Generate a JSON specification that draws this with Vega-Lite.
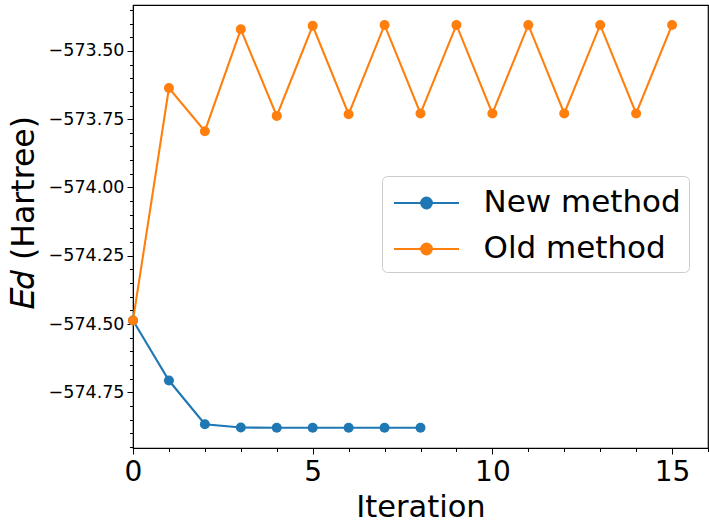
{
  "$schema": "https://vega.github.io/schema/vega-lite/v6.json",
  "width": 575,
  "height": 443,
  "autosize": {"type": "none"},
  "padding": {"left": 133, "top": 5, "right": 1, "bottom": 77},
  "config": {
    "font": "DejaVu Sans",
    "view": {"stroke": "#000000", "strokeWidth": 1.2}
  },
  "data": {
    "values": [
      {"iter": 0, "energy": -574.487, "method": "New method"},
      {"iter": 1, "energy": -574.707, "method": "New method"},
      {"iter": 2, "energy": -574.867, "method": "New method"},
      {"iter": 3, "energy": -574.879, "method": "New method"},
      {"iter": 4, "energy": -574.880, "method": "New method"},
      {"iter": 5, "energy": -574.880, "method": "New method"},
      {"iter": 6, "energy": -574.880, "method": "New method"},
      {"iter": 7, "energy": -574.880, "method": "New method"},
      {"iter": 8, "energy": -574.880, "method": "New method"},
      {"iter": 0, "energy": -574.487, "method": "Old method"},
      {"iter": 1, "energy": -573.636, "method": "Old method"},
      {"iter": 2, "energy": -573.794, "method": "Old method"},
      {"iter": 3, "energy": -573.421, "method": "Old method"},
      {"iter": 4, "energy": -573.738, "method": "Old method"},
      {"iter": 5, "energy": -573.408, "method": "Old method"},
      {"iter": 6, "energy": -573.732, "method": "Old method"},
      {"iter": 7, "energy": -573.405, "method": "Old method"},
      {"iter": 8, "energy": -573.729, "method": "Old method"},
      {"iter": 9, "energy": -573.405, "method": "Old method"},
      {"iter": 10, "energy": -573.729, "method": "Old method"},
      {"iter": 11, "energy": -573.405, "method": "Old method"},
      {"iter": 12, "energy": -573.729, "method": "Old method"},
      {"iter": 13, "energy": -573.405, "method": "Old method"},
      {"iter": 14, "energy": -573.729, "method": "Old method"},
      {"iter": 15, "energy": -573.405, "method": "Old method"}
    ]
  },
  "encoding": {
    "x": {
      "field": "iter",
      "type": "quantitative",
      "scale": {"domain": [0, 16], "nice": false, "zero": false},
      "axis": {
        "title": "Iteration",
        "values": [0, 1, 2, 3, 4, 5, 6, 7, 8, 9, 10, 11, 12, 13, 14, 15, 16],
        "labelExpr": "datum.value % 5 == 0 && datum.value < 16 ? format(datum.value, 'd') : ''",
        "tickSize": {"condition": {"test": "datum.value % 5 == 0 && datum.value < 16", "value": 6}, "value": 3.5},
        "labelFontSize": 28,
        "labelOverlap": false,
        "labelFlush": false,
        "labelPadding": 4,
        "titleFontSize": 30.5,
        "titleFontWeight": "normal",
        "titlePadding": 6,
        "grid": false,
        "domainColor": "#000000",
        "tickColor": "#000000",
        "labelColor": "#000000",
        "titleColor": "#000000"
      }
    },
    "y": {
      "field": "energy",
      "type": "quantitative",
      "scale": {"domain": [-574.954, -573.332], "nice": false, "zero": false},
      "axis": {
        "title": "𝐸𝑑 (Hartree)",
        "values": [-574.95, -574.9, -574.85, -574.8, -574.75, -574.7, -574.65, -574.6, -574.55, -574.5, -574.45, -574.4, -574.35, -574.3, -574.25, -574.2, -574.15, -574.1, -574.05, -574.0, -573.95, -573.9, -573.85, -573.8, -573.75, -573.7, -573.65, -573.6, -573.55, -573.5, -573.45, -573.4, -573.35],
        "labelExpr": "abs(datum.value * 4 - round(datum.value * 4)) < 0.001 ? format(datum.value, '.2f') : ''",
        "tickSize": {"condition": {"test": "abs(datum.value * 4 - round(datum.value * 4)) < 0.001", "value": 6}, "value": 3.5},
        "labelFontSize": 17.5,
        "labelOverlap": false,
        "labelFlush": false,
        "labelPadding": 3,
        "titleFontSize": 31.5,
        "titleFontWeight": "normal",
        "titlePadding": 8,
        "titleY": 207,
        "grid": false,
        "domainColor": "#000000",
        "tickColor": "#000000",
        "labelColor": "#000000",
        "titleColor": "#000000"
      }
    },
    "color": {
      "field": "method",
      "type": "nominal",
      "scale": {"domain": ["New method", "Old method"], "range": ["#1f77b4", "#ff7f0e"]},
      "legend": {
        "orient": "none",
        "legendX": 249,
        "legendY": 171,
        "title": null,
        "labelFontSize": 31,
        "labelLimit": 500,
        "labelColor": "#000000",
        "symbolType": "M-1.806,0L1.806,0M0.3,0A0.3,0.3,0,1,1,-0.3,0A0.3,0.3,0,1,1,0.3,0Z",
        "symbolSize": 1296,
        "symbolStrokeWidth": 2,
        "symbolOffset": 17.5,
        "padding": 8,
        "rowPadding": 12,
        "labelOffset": 38,
        "strokeColor": "#cccccc",
        "fillColor": "rgba(255,255,255,0.8)",
        "cornerRadius": 5
      }
    }
  },
  "layer": [
    {"mark": {"type": "line", "strokeWidth": 2.1}},
    {"mark": {"type": "point", "filled": true, "size": 100, "opacity": 1}}
  ]
}
